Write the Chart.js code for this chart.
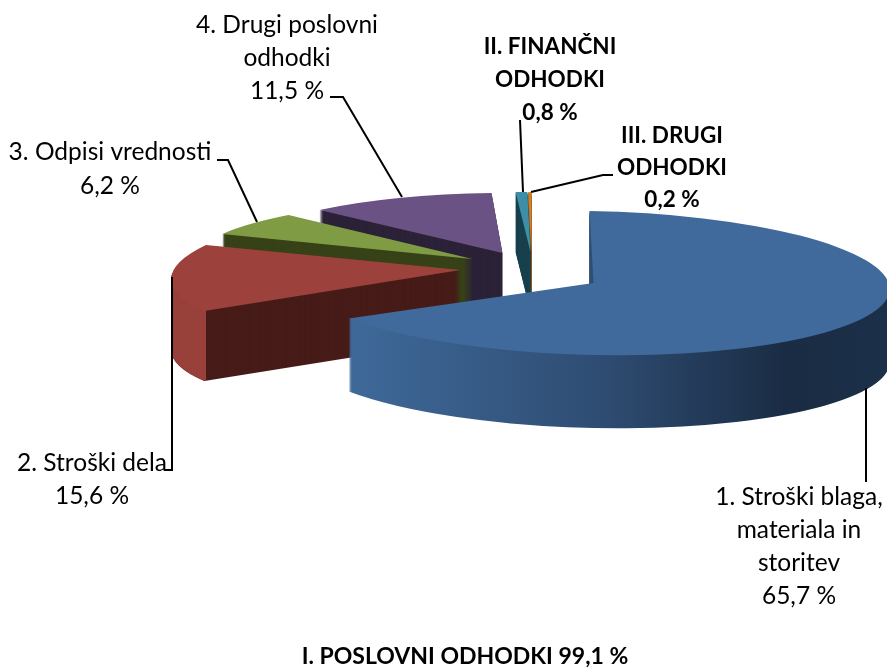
<!DOCTYPE html>
<html>
<head>
<meta charset="utf-8">
<title>Odhodki</title>
<script src="https://cdn.jsdelivr.net/npm/chart.js@4"></script>
<style>
  html, body { margin: 0; padding: 0; background: #fff; }
  canvas { display: block; }
</style>
</head>
<body>
<canvas id="mycanvas" width="887" height="668"></canvas>
<script>
// values, percent
var categories = ['1. Stroški blaga, materiala in storitev', '2. Stroški dela', '3. Odpisi vrednosti', '4. Drugi poslovni odhodki', 'II. FINANČNI ODHODKI', 'III. DRUGI ODHODKI'];
var values = [65.7, 15.6, 6.2, 11.5, 0.8, 0.2];
var percentText = ['65,7 %', '15,6 %', '6,2 %', '11,5 %', '0,8 %', '0,2 %'];
var footerText = 'I. POSLOVNI ODHODKI 99,1 %';

// slice look
var topColors = ['#3f6a9b', '#9c413c', '#7f9c45', '#6a5284', '#3d8fa8', '#d07f2a'];
var wallColors = ['#1a2c44', '#471c18', '#374218', '#2c2238', '#1a404e', '#8f5a1f'];
var depths = [73, 70, 60, 60, 60, 60];

var R = 294;
// fake perspective per slice: a, b, c, d of a canvas matrix in px per radius, then pull from pie centre
var shapes = [
    [296, 5, 4, 72],
    [288, -2.4, -29, 70.6],
    [279, 1.8, -18.8, 60.4],
    [264.5, 0.8, -5.7, 60],
    [235, 0, 0.2, 60],
    [264, 0, 0, 60]
];
var pulls = [[-1, 1], [-134, -12], [-122, -23], [-92, -29], [-64, -30], [-63, -30]];
var drawOrder = [5, 4, 3, 2, 1, 0];

// text blocks: lines, centre x, first line y, bold
var labels = [
    { lines: ['1. Stroški blaga,', 'materiala in', 'storitev', percentText[0]], x: 799, y: 497, dy: 33, bold: false },
    { lines: ['2. Stroški dela', percentText[1]], x: 92, y: 463, dy: 33, bold: false },
    { lines: ['3. Odpisi vrednosti', percentText[2]], x: 110, y: 152, dy: 34, bold: false },
    { lines: ['4. Drugi poslovni', 'odhodki', percentText[3]], x: 287, y: 25, dy: 33, bold: false },
    { lines: ['II. FINANČNI', 'ODHODKI', percentText[4]], x: 550, y: 47, dy: 33, bold: true },
    { lines: ['III. DRUGI', 'ODHODKI', percentText[5]], x: 672, y: 136, dy: 32, bold: true },
    { lines: [footerText], x: 465, y: 657, dy: 0, bold: true, size: 23 }
];
var leaders = [
    [[866, 388], [866, 482]],
    [[172, 277], [172, 470], [165, 470]],
    [[257, 222], [228, 160], [217, 160]],
    [[402, 197], [343, 97], [330, 97]],
    [[523, 192], [520, 120]],
    [[531, 192], [603, 175], [613, 175]]
];

function sliceMatrix(ctx, arc, i, drop) {
    var s = shapes[i];
    ctx.translate(arc.x + pulls[i][0], arc.y + pulls[i][1] + drop);
    ctx.transform(s[0] / R, s[1] / R, s[2] / R, s[3] / R, 0, 0);
    ctx.translate(-arc.x, -arc.y);
}

function drawLayer(ctx, arc, i, drop, fill) {
    var keep = arc.options;
    arc.options = Object.assign({}, keep, { backgroundColor: fill, borderWidth: 0 });
    ctx.save();
    sliceMatrix(ctx, arc, i, drop);
    arc.draw(ctx);
    ctx.restore();
    arc.options = keep;
}

var pie3d = {
    id: 'pie3d',
    beforeDatasetsDraw: function(chart) {
        var ctx = chart.ctx;
        var arcs = chart.getDatasetMeta(0).data;

        drawOrder.forEach(function(i) {
            var arc = arcs[i];
            var d;
            var fill = wallColors[i];

            if (i === 0) {
                // outer wall of the big slice gets lighter to the left
                fill = ctx.createLinearGradient(arc.x - R, 0, arc.x + R, 0);
                fill.addColorStop(0, '#3f6a9c');
                fill.addColorStop(0.1, '#3e6898');
                fill.addColorStop(0.5, '#2f4d73');
                fill.addColorStop(0.82, '#1a2c44');
                fill.addColorStop(1, '#1c3049');
            }
            for (d = depths[i]; d >= 1; d--) {
                drawLayer(ctx, arc, i, d, fill);
            }
            if (i === 1) {
                // red: curved wall left of the cut face
                ctx.save();
                ctx.beginPath();
                ctx.rect(0, 0, 206, chart.height);
                ctx.clip();
                for (d = depths[i]; d >= 1; d--) {
                    drawLayer(ctx, arc, i, d, '#98403b');
                }
                ctx.restore();
            }
            drawLayer(ctx, arc, i, 0, topColors[i]);
        });
        return false;
    },
    afterDraw: function(chart) {
        var ctx = chart.ctx;
        ctx.save();
        ctx.strokeStyle = '#000';
        ctx.lineWidth = 2;
        leaders.forEach(function(pts) {
            ctx.beginPath();
            pts.forEach(function(p, n) {
                if (n === 0) ctx.moveTo(p[0], p[1]);
                else ctx.lineTo(p[0], p[1]);
            });
            ctx.stroke();
        });
        ctx.fillStyle = '#000';
        ctx.textAlign = 'center';
        ctx.textBaseline = 'middle';
        labels.forEach(function(l) {
            ctx.font = (l.bold ? 'bold ' : '') + (l.size || (l.bold ? 22.5 : 24.5)) + 'px Lato';
            l.lines.forEach(function(t, n) {
                ctx.fillText(t, l.x, l.y + n * l.dy);
            });
        });
        ctx.restore();
    }
};

var barGraph = new Chart(document.getElementById('mycanvas'), {
    type: 'pie',
    data: {
        labels: categories,
        datasets: [{
            data: values,
            backgroundColor: topColors,
            borderWidth: 0,
            radius: R
        }]
    },
    options: {
        responsive: false,
        animation: false,
        layout: { padding: { left: 302, bottom: 104 } },
        plugins: {
            legend: { display: false },
            tooltip: { enabled: false }
        }
    },
    plugins: [pie3d]
});
</script>
</body>
</html>
